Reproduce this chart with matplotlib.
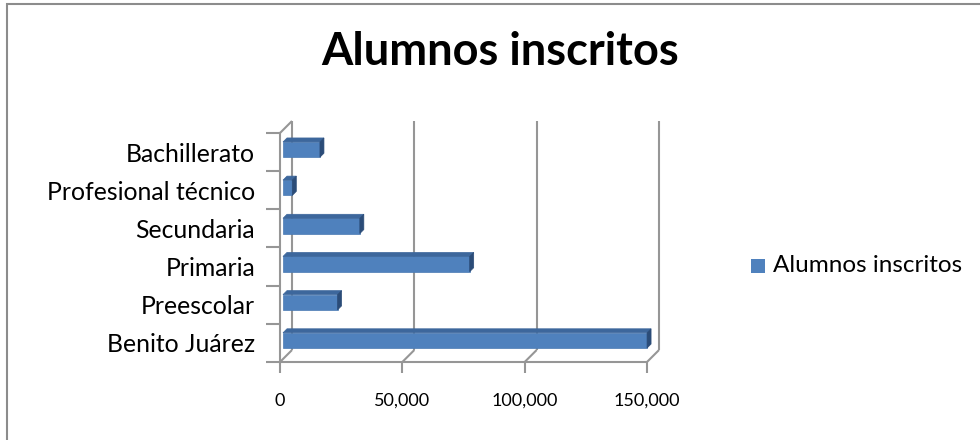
import numpy as np
import matplotlib
matplotlib.use('Agg')
import matplotlib.pyplot as plt
from matplotlib.patches import Polygon, Rectangle
from matplotlib.lines import Line2D
from matplotlib.transforms import IdentityTransform, offset_copy

# data (bottom to top)
categories = ['Benito Juárez', 'Preescolar', 'Primaria', 'Secundaria',
              'Profesional técnico', 'Bachillerato']
alumnos = [148800, 22300, 76300, 31400, 3800, 15100]
xticks = [0, 50000, 100000, 150000]
xtick_labels = ['0', '50,000', '100,000', '150,000']
series_name = 'Alumnos inscritos'

plt.rcParams['font.family'] = ['Lato', 'DejaVu Sans']

W, H = 980, 440
fig = plt.figure(figsize=(W / 100, H / 100), dpi=100)
fig.patch.set_facecolor('white')

# outer chart border (only left/top visible in the picture)
fig.add_artist(Rectangle((7, -10), W + 20, H - 4 + 10, transform=IdentityTransform(),
                         fill=False, edgecolor='#8c8c8c', linewidth=1.5))

# front plane of the 3d plot
ax = fig.add_axes([280 / W, (H - 362) / H, 367 / W, 229 / H])
ax.set_xlim(0, 150000)
ax.set_ylim(-0.5, len(categories) - 0.5)
ax.patch.set_visible(False)
for s in ['top', 'right', 'bottom']:
    ax.spines[s].set_visible(False)
ax.spines['left'].set_color('#969696')
ax.spines['left'].set_linewidth(1.5)
ax.spines['left'].set_zorder(1)

grid = '#969696'
depth = 12      # wall depth in pixels
bar_shift = 3   # bars sit a bit behind the front plane
bar_depth = 4

ypos = np.arange(len(categories))
ax.set_yticks(ypos)
ax.set_yticklabels(categories, fontsize=17.8)
ax.set_yticks(np.arange(-0.5, len(categories)), minor=True)
ax.tick_params(axis='y', which='major', length=0, pad=18)
ax.tick_params(axis='y', which='minor', length=10, width=1.5, color=grid)
ax.set_xticks(xticks)
ax.set_xticklabels(xtick_labels, fontsize=13)
ax.tick_params(axis='x', length=8, width=1.5, color=grid, pad=14)

fig.canvas.draw()
px = ax.transData.transform


def line(p0, p1):
    ax.add_artist(Line2D([p0[0], p1[0]], [p0[1], p1[1]], transform=IdentityTransform(),
                         color=grid, linewidth=1.5, solid_capstyle='butt',
                         clip_on=False, zorder=1))


y0, y1 = -0.5, len(categories) - 0.5
# front floor edge
line(px((0, y0)), px((150000, y0)))
for xv in xticks:
    f = px((xv, y0))
    b = f + [depth, depth]
    top = px((xv, y1)) + [depth, depth]
    line(f, b)          # floor diagonal
    line(b, top)        # back wall gridline
# left wall top edge
line(px((0, y1)), px((0, y1)) + [depth, depth])

# bars: front faces via barh, top and side faces as offset polygons
bh = 0.4
ax.barh(ypos, alumnos, height=bh, color='#4F81BD', edgecolor='#4A7AB3', linewidth=0.5,
        transform=offset_copy(ax.transData, fig=fig, x=bar_shift, y=2.5, units='dots'),
        zorder=3, clip_on=False)
for yv, v in zip(ypos, alumnos):
    bl = px((0, yv - bh / 2)) + [bar_shift, 2.5]
    tl = px((0, yv + bh / 2)) + [bar_shift, 2.5]
    tr = px((v, yv + bh / 2)) + [bar_shift, 2.5]
    br = px((v, yv - bh / 2)) + [bar_shift, 2.5]
    d = np.array([bar_depth, bar_depth])
    ax.add_artist(Polygon([tl, tr, tr + d, tl + d], closed=True, transform=IdentityTransform(),
                          facecolor='#3D679C', edgecolor='#3D679C', linewidth=0.5,
                          clip_on=False, zorder=3))
    ax.add_artist(Polygon([br, tr, tr + d, br + d], closed=True, transform=IdentityTransform(),
                          facecolor='#2B4C78', edgecolor='#2B4C78', linewidth=0.5,
                          clip_on=False, zorder=3))

# title
fig.text(500 / W, 1 - 52 / H, 'Alumnos inscritos', fontsize=32.5, fontweight='bold',
         ha='center', va='center', color='black')

# legend
fig.add_artist(Rectangle((751, H - 273), 14, 14, transform=IdentityTransform(),
                         facecolor='#4F81BD', edgecolor='none'))
fig.text(773 / W, 1 - 266 / H, series_name, fontsize=17.5, ha='left', va='center')

fig.savefig('out.png', dpi=100)
